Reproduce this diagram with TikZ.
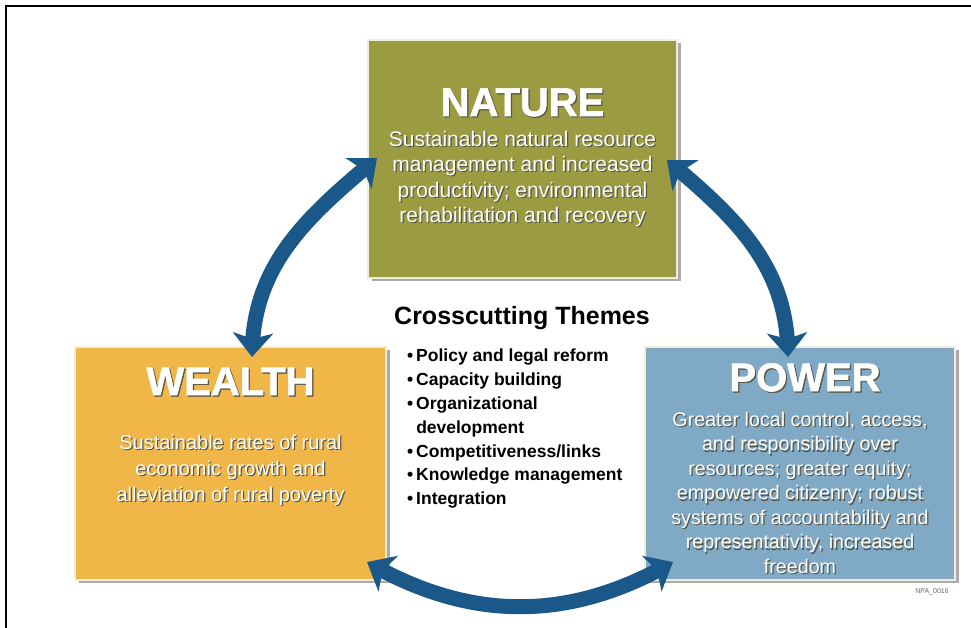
\documentclass[tikz,border=0pt]{standalone}
\usepackage{fontspec}
\setmainfont{Liberation Sans}
\newfontfamily\titlefont[FakeBold=1.5]{Liberation Sans}
\usetikzlibrary{arrows.meta,bending,shadows}
\definecolor{naturec}{RGB}{155,155,66}
\definecolor{wealthc}{RGB}{240,182,72}
\definecolor{powerc}{RGB}{128,169,198}
\definecolor{arrowc}{RGB}{26,88,138}
\definecolor{edgec}{RGB}{238,238,222}
\definecolor{shadowc}{RGB}{85,85,70}
\newcommand\shd[2][1.2pt]{\leavevmode\rlap{\kern#1\raisebox{-#1}{\textcolor{shadowc}{#2}}}#2}
\tikzset{
  box/.style={rectangle, draw=edgec, line width=2pt, inner sep=0pt,
    drop shadow={shadow xshift=3.5pt, shadow yshift=-3.5pt, fill=black!55, opacity=0.6}},
  titletext/.style={text=white, inner sep=0pt, font=\titlefont\bfseries\fontsize{40}{40}\selectfont},
  bodytext/.style={text=white, align=center, inner sep=0pt},
  arr/.style={line width=15pt, draw=arrowc,
    arrows={Stealth[length=24pt,width=40pt,inset=6pt,flex]-Stealth[length=24pt,width=40pt,inset=6pt,flex]}}
}
\begin{document}
\begin{tikzpicture}[x=1pt,y=1pt]
\useasboundingbox (0,0) rectangle (971,628);
\fill[white] (0,0) rectangle (971,628);
\draw[line width=2.2pt] (6,0) -- (6,622) -- (971,622);

% boxes
\node[box, fill=naturec, minimum width=309pt, minimum height=238pt] (nature) at (522.5,469) {};
\node[box, fill=wealthc, minimum width=311pt, minimum height=233pt] (wealth) at (230.5,164.5) {};
\node[box, fill=powerc, minimum width=310pt, minimum height=233pt] (power) at (800,164.5) {};

% titles
\node[titletext] (natureT) at (522.5,525) {\shd{NATURE}};
\node[titletext] (wealthT) at (230.5,246) {\shd{WEALTH}};
\node[titletext] (powerT) at (805,250) {\shd{POWER}};

% bodies
\node[bodytext, font=\fontsize{21}{25.5}\selectfont] (natureB) at (522.5,448.5)
  {\shd{Sustainable natural resource}\\ \shd{management and increased}\\ \shd{productivity; environmental}\\ \shd{rehabilitation and recovery}};
\node[bodytext, font=\fontsize{20}{26}\selectfont] (wealthB) at (230.5,157)
  {\shd{Sustainable rates of rural}\\ \shd{economic growth and}\\ \shd{alleviation of rural poverty}};
\node[bodytext, font=\fontsize{19.7}{24.5}\selectfont] (powerB) at (800,134.5)
  {\shd{Greater local control, access,}\\ \shd{and responsibility over}\\ \shd{resources; greater equity;}\\ \shd{empowered citizenry; robust}\\ \shd{systems of accountability and}\\ \shd{representativity, increased}\\ \shd{freedom}};

% crosscutting themes
\node[font=\bfseries\fontsize{25}{25}\selectfont, inner sep=0pt] (themesT) at (522,310) {Crosscutting Themes};
\node[anchor=north west, inner sep=0pt, font=\bfseries\fontsize{17.5}{23.8}\selectfont] (themesL) at (407,283)
  {\begin{tabular}{@{}l@{\,}l@{}}
   • & Policy and legal reform\\
   • & Capacity building\\
   • & Organizational\\
     & development\\
   • & Competitiveness/links\\
   • & Knowledge management\\
   • & Integration
   \end{tabular}};

\node[font=\fontsize{7}{7}\selectfont, text=black!60, inner sep=0pt] (code) at (932,36) {NPA\_0016};

% arrows
\coordinate (l1) at (252,271);
\coordinate (l2) at (377,470);
\coordinate (r1) at (667,468);
\coordinate (r2) at (788,271);
\coordinate (b1) at (367,66);
\coordinate (b2) at (673,66);
\draw[arr] (l1) to[out=90,in=220] (l2);
\draw[arr] (r1) to[out=-40,in=90] (r2);
\draw[arr] (b1) to[out=-30,in=210] (b2);
\end{tikzpicture}
\end{document}
